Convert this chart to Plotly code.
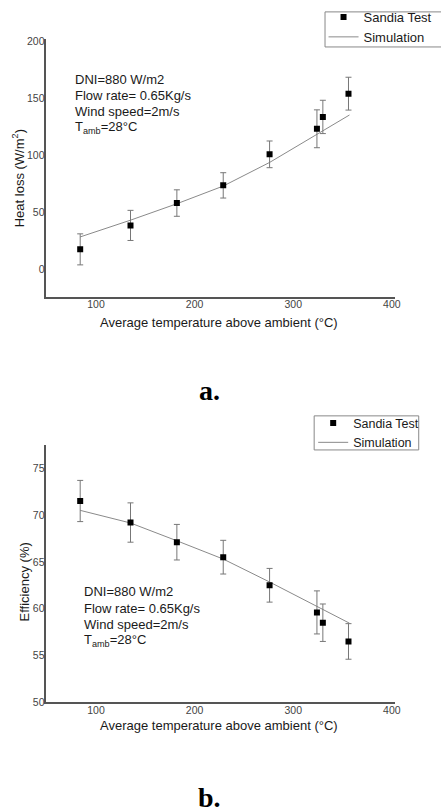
import plotly.graph_objects as go

# ---------------- data ----------------
temp_test = [84, 135, 182, 229, 276, 324, 330, 356]
heat_loss_test = [17.2, 38.2, 57.8, 73.3, 100.5, 122.9, 133.3, 153.7]
heat_loss_err = [13.6, 13.2, 11.6, 11.1, 11.7, 16.6, 14.6, 14.4]

temp_sim = [84, 135, 182, 229, 276, 324, 330, 357]
heat_loss_sim = [28.1, 42.8, 57.2, 72.7, 93.4, 118.0, 121.0, 135.0]

eff_test = [71.5, 69.2, 67.1, 65.5, 62.5, 59.6, 58.5, 56.5]
eff_err = [2.2, 2.1, 1.9, 1.8, 1.8, 2.3, 2.0, 1.9]
eff_sim = [70.5, 69.15, 67.25, 65.3, 62.85, 60.2, 59.9, 58.45]

x_ticks = [100, 200, 300, 400]
y1_ticks = [0, 50, 100, 150, 200]
y2_ticks = [50, 55, 60, 65, 70, 75]

conditions = ["DNI=880 W/m2", "Flow rate= 0.65Kg/s", "Wind speed=2m/s",
              "T<sub>amb</sub>=28°C"]

# ---------------- style ----------------
FONT = "Liberation Sans, Arial, sans-serif"
W, H = 441, 812
AXC = "#555555"
TICKC = "#444444"
TXT = "#1a1a1a"
SIMC = "#8a8a8a"
ERRC = "#777777"

fig = go.Figure()

# top panel
fig.add_trace(go.Scatter(x=temp_sim, y=heat_loss_sim, mode="lines", name="Simulation",
                         line=dict(color=SIMC, width=1), xaxis="x", yaxis="y",
                         legend="legend", legendrank=2))
fig.add_trace(go.Scatter(x=temp_test, y=heat_loss_test, mode="markers", name="Sandia Test",
                         marker=dict(symbol="square", size=6, color="black"),
                         error_y=dict(type="data", array=heat_loss_err, color=ERRC,
                                      thickness=1, width=3),
                         xaxis="x", yaxis="y", legend="legend", legendrank=1))
# bottom panel
fig.add_trace(go.Scatter(x=temp_sim, y=eff_sim, mode="lines", name="Simulation",
                         line=dict(color=SIMC, width=1), xaxis="x2", yaxis="y2",
                         legend="legend2", legendrank=2))
fig.add_trace(go.Scatter(x=temp_test, y=eff_test, mode="markers", name="Sandia Test",
                         marker=dict(symbol="square", size=6, color="black"),
                         error_y=dict(type="data", array=eff_err, color=ERRC,
                                      thickness=1, width=3),
                         xaxis="x2", yaxis="y2", legend="legend2", legendrank=1))

axis_common = dict(showline=True, linecolor=AXC, linewidth=1.5, ticks="",
                   showgrid=False, zeroline=False,
                   tickfont=dict(family=FONT, size=10.5, color=TICKC))

xdom = [47 / W, 400 / W]
fig.update_layout(
    width=W, height=H, margin=dict(l=0, r=0, t=0, b=0),
    paper_bgcolor="white", plot_bgcolor="white",
    font=dict(family=FONT, color=TXT),
    xaxis=dict(domain=xdom, range=[49.7, 402.7], tickvals=x_ticks, anchor="y",
               ticklabelstandoff=-3, **axis_common),
    yaxis=dict(domain=[1 - 296.7 / H, 1 - 35 / H], range=[-24.6, 202], tickvals=y1_ticks,
               anchor="x", ticklabelstandoff=-2, **axis_common),
    xaxis2=dict(domain=xdom, range=[49.7, 402.7], tickvals=x_ticks, anchor="y2",
                ticklabelstandoff=-3, **axis_common),
    yaxis2=dict(domain=[1 - 707 / H, 1 - 446.7 / H], range=[50, 77.46], tickvals=y2_ticks,
                anchor="x2", ticklabelstandoff=-2, **axis_common),
    legend=dict(x=328 / W, y=1 + 2 / H, xanchor="left", yanchor="top",
                bgcolor="rgba(0,0,0,0)", borderwidth=0,
                font=dict(family=FONT, size=13, color=TXT), tracegroupgap=0, itemwidth=30),
    legend2=dict(x=317.5 / W, y=1 - 409.5 / H, xanchor="left", yanchor="top",
                 bgcolor="rgba(0,0,0,0)", borderwidth=0,
                 font=dict(family=FONT, size=12.5, color=TXT), tracegroupgap=0, itemwidth=30),
    shapes=[
        # legend frames
        dict(type="rect", xref="paper", yref="paper", x0=329.5 / W, x1=1.02,
             y0=1 - 43.5 / H, y1=1 - 8.0 / H, line=dict(color="#888888", width=1),
             fillcolor="white", layer="below"),
        dict(type="rect", xref="paper", yref="paper", x0=318.5 / W, x1=424.5 / W,
             y0=1 - 451.5 / H, y1=1 - 417.0 / H, line=dict(color="#888888", width=1),
             fillcolor="white", layer="below"),
    ],
)

ann = []
# condition texts
top_y = [76.7, 92.8, 109.2, 125.3]
bot_y = [595.3, 612.0, 628.3, 644.3]
for txt, ty in zip(conditions, top_y):
    ann.append(dict(text=txt, x=74 / W, y=1 - ty / H, xref="paper", yref="paper",
                    xanchor="left", yanchor="middle", showarrow=False,
                    font=dict(family=FONT, size=13, color=TXT)))
for txt, ty in zip(conditions, bot_y):
    ann.append(dict(text=txt, x=83 / W, y=1 - ty / H, xref="paper", yref="paper",
                    xanchor="left", yanchor="middle", showarrow=False,
                    font=dict(family=FONT, size=13, color=TXT)))
# axis titles
ann.append(dict(text="Average temperature above ambient (°C)", x=222 / W, y=1 - 322 / H,
                xref="paper", yref="paper", xanchor="center", yanchor="middle",
                showarrow=False, font=dict(family=FONT, size=13, color=TXT)))
ann.append(dict(text="Average temperature above ambient (°C)", x=222 / W, y=1 - 730 / H,
                xref="paper", yref="paper", xanchor="center", yanchor="middle",
                showarrow=False, font=dict(family=FONT, size=13, color=TXT)))
ann.append(dict(text="Heat loss (W/m<sup>2</sup>)", x=18 / W, y=1 - 176.7 / H,
                xref="paper", yref="paper", xanchor="center", yanchor="middle",
                textangle=-90, showarrow=False, font=dict(family=FONT, size=13, color=TXT)))
ann.append(dict(text="Efficiency (%)", x=25 / W, y=1 - 585 / H,
                xref="paper", yref="paper", xanchor="center", yanchor="middle",
                textangle=-90, showarrow=False, font=dict(family=FONT, size=13, color=TXT)))
# captions
ann.append(dict(text="<b>a.</b>", x=212 / W, y=1 - 391 / H, xref="paper", yref="paper",
                xanchor="center", yanchor="middle", showarrow=False,
                font=dict(family="Liberation Serif, Times New Roman, serif", size=28, color="black")))
ann.append(dict(text="<b>b.</b>", x=212 / W, y=1 - 803 / H, xref="paper", yref="paper",
                xanchor="center", yanchor="middle", showarrow=False,
                font=dict(family="Liberation Serif, Times New Roman, serif", size=28, color="black")))
fig.update_layout(annotations=ann)

fig.write_html("out.html")
